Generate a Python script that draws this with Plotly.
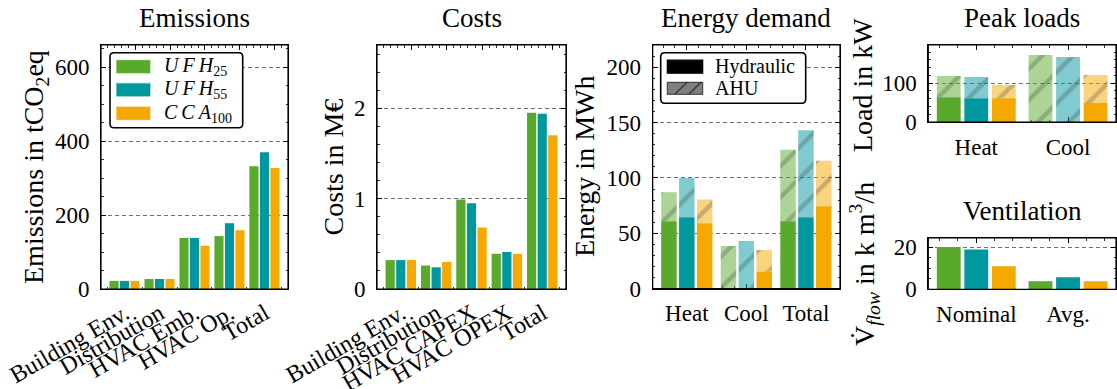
import plotly.graph_objects as go

# ---------------- data ----------------
scenario_labels = ["<i>U\u2009F\u2009H</i><sub>25</sub>",
                   "<i>U\u2009F\u2009H</i><sub>55</sub>",
                   "<i>C\u2009C\u2009A</i><sub>100</sub>"]

emission_categories = ["Building Env.", "Distribution", "HVAC Emb.", "HVAC Op.", "Total"]
emissions_ufh25 = [22, 27, 138, 143, 332]
emissions_ufh55 = [22, 27, 138, 178, 370]
emissions_cca100 = [22, 27, 117, 159, 327]

cost_categories = ["Building Env.", "Distribution", "HVAC CAPEX", "HVAC OPEX", "Total"]
costs_ufh25 = [0.32, 0.26, 0.99, 0.39, 1.95]
costs_ufh55 = [0.32, 0.24, 0.95, 0.41, 1.94]
costs_cca100 = [0.32, 0.30, 0.68, 0.39, 1.70]

energy_categories = ["Heat", "Cool", "Total"]
energy_hydraulic_ufh25 = [61, 0, 61]
energy_ahu_ufh25 = [26, 38.5, 64.5]
energy_hydraulic_ufh55 = [64.5, 0, 64.5]
energy_ahu_ufh55 = [35.5, 43, 78.5]
energy_hydraulic_cca100 = [59, 15.5, 74.5]
energy_ahu_cca100 = [21.5, 19.5, 41]

peak_categories = ["Heat", "Cool"]
peak_hydraulic_ufh25 = [63.5, 0]
peak_ahu_ufh25 = [54.5, 172.5]
peak_hydraulic_ufh55 = [61, 0]
peak_ahu_ufh55 = [54.5, 167]
peak_hydraulic_cca100 = [61, 49]
peak_ahu_cca100 = [34, 72]

vent_categories = ["Nominal", "Avg."]
vent_ufh25 = [20.0, 3.8]
vent_ufh55 = [18.9, 5.7]
vent_cca100 = [10.9, 3.8]

# ---------------- style ----------------
W, H = 1117, 389
FONT = "Liberation Serif"
COLORS = ["#58A92C", "#00979F", "#F5A800"]
LIGHT = ["rgba(88,169,44,0.5)", "rgba(0,151,159,0.5)", "rgba(245,168,0,0.5)"]
HATCH = "rgba(50,50,50,0.5)"
BAR_W = 0.26
CENTERS = [-0.3, 0.0, 0.3]


def fx(p):
    return p / W


def fy(p):
    return 1 - p / H


fig = go.Figure()


def add_bars(xa, ya, values, k, base=None, hatched=False):
    n = len(values)
    kw = dict(x=list(range(n)), y=values, width=[BAR_W] * n,
              offset=CENTERS[k] - BAR_W / 2, xaxis=xa, yaxis=ya,
              showlegend=False, hoverinfo="skip")
    if base is not None:
        kw["base"] = base
    if hatched:
        kw["marker"] = dict(color=LIGHT[k], line=dict(width=0),
                            pattern=dict(shape="/", fgcolor=HATCH, size=22,
                                         solidity=0.2, fillmode="overlay"))
    else:
        kw["marker"] = dict(color=COLORS[k], line=dict(width=0))
    fig.add_trace(go.Bar(**kw))


for k, vals in enumerate([emissions_ufh25, emissions_ufh55, emissions_cca100]):
    add_bars("x", "y", vals, k)
for k, vals in enumerate([costs_ufh25, costs_ufh55, costs_cca100]):
    add_bars("x2", "y2", vals, k)
for k, (hyd, ahu) in enumerate([(energy_hydraulic_ufh25, energy_ahu_ufh25),
                                (energy_hydraulic_ufh55, energy_ahu_ufh55),
                                (energy_hydraulic_cca100, energy_ahu_cca100)]):
    add_bars("x3", "y3", hyd, k)
    add_bars("x3", "y3", ahu, k, base=hyd, hatched=True)
for k, (hyd, ahu) in enumerate([(peak_hydraulic_ufh25, peak_ahu_ufh25),
                                (peak_hydraulic_ufh55, peak_ahu_ufh55),
                                (peak_hydraulic_cca100, peak_ahu_cca100)]):
    add_bars("x4", "y4", hyd, k)
    add_bars("x4", "y4", ahu, k, base=hyd, hatched=True)
for k, vals in enumerate([vent_ufh25, vent_ufh55, vent_cca100]):
    add_bars("x5", "y5", vals, k)


def xrange_for(n):
    lo, hi = -0.3 - BAR_W / 2, (n - 1) + 0.3 + BAR_W / 2
    m = 0.05 * (hi - lo)
    return [lo - m, hi + m]


TICKFONT = dict(family=FONT, size=23, color="black")
ROTFONT = dict(family=FONT, size=24, color="black")


def xaxis(dom, anchor, n, labels, rotated):
    d = dict(domain=[fx(dom[0]), fx(dom[1])], range=xrange_for(n), anchor=anchor,
             tickmode="array", ticks="inside", ticklen=5, tickwidth=1, tickcolor="black",
             showline=True, linecolor="black", linewidth=1, mirror="ticks",
             showgrid=False, zeroline=False, layer="below traces", automargin=False,
             tickfont=TICKFONT, fixedrange=True)
    if rotated:
        d.update(tickvals=[i + 0.3 for i in range(n)], ticktext=labels, tickangle=-30,
                 ticklabelshift=-10, ticklabelstandoff=0, tickfont=ROTFONT,
                 minor=dict(ticks="inside", ticklen=2.5, tickwidth=0.8, tickcolor="black",
                            tick0=0.1, dtick=0.2, showgrid=False))
    else:
        d.update(tickvals=list(range(n)), ticktext=labels, tickangle=0,
                 ticklabelstandoff=4,
                 minor=dict(ticks="inside", ticklen=2.5, tickwidth=0.8, tickcolor="black",
                            tick0=0, dtick=0.2, showgrid=False))
    return d


def yaxis(dom, anchor, rng, dtick, minor_dtick):
    return dict(domain=[fy(dom[1]), fy(dom[0])], range=rng, anchor=anchor,
                tickmode="linear", tick0=0, dtick=dtick,
                ticks="inside", ticklen=5, tickwidth=1, tickcolor="black",
                showline=True, linecolor="black", linewidth=1, mirror="ticks",
                showgrid=True, gridcolor="#707070", gridwidth=1, griddash="4px,3px",
                zeroline=False, layer="below traces", tickfont=TICKFONT, automargin=False,
                ticklabelstandoff=6, fixedrange=True,
                minor=dict(ticks="inside", ticklen=2.5, tickwidth=0.8, tickcolor="black",
                           dtick=minor_dtick, tick0=0, showgrid=False))


frames = {
    "1": (101, 288, 45, 289),
    "2": (377, 566, 45, 289),
    "3": (652.7, 840, 45, 288.7),
    "4": (928.3, 1116, 45, 122),
    "5": (928.3, 1116, 238, 289.3),
}

layout_axes = {
    "xaxis": xaxis(frames["1"][:2], "y", 5, emission_categories, True),
    "yaxis": yaxis(frames["1"][2:], "x", [0, 660], 200, 50),
    "xaxis2": xaxis(frames["2"][:2], "y2", 5, cost_categories, True),
    "yaxis2": yaxis(frames["2"][2:], "x2", [0, 2.7], 1, 0.2),
    "xaxis3": xaxis(frames["3"][:2], "y3", 3, energy_categories, False),
    "yaxis3": yaxis(frames["3"][2:], "x3", [0, 220], 50, 10),
    "xaxis4": xaxis(frames["4"][:2], "y4", 2, peak_categories, False),
    "yaxis4": yaxis(frames["4"][2:], "x4", [0, 198], 100, 20),
    "xaxis5": xaxis(frames["5"][:2], "y5", 2, vent_categories, False),
    "yaxis5": yaxis(frames["5"][2:], "x5", [0, 24.3], 20, 5),
}

shapes = []
for key in ["", "2", "3", "4", "5"]:
    shapes.append(dict(type="rect", xref=f"x{key} domain", yref=f"y{key} domain",
                       x0=0, x1=1, y0=0, y1=1, line=dict(color="black", width=1.2),
                       fillcolor="rgba(0,0,0,0)", layer="above"))

annotations = []


def text(xp, yp, s, size, xanchor="center", yanchor="middle", angle=0):
    annotations.append(dict(x=fx(xp), y=fy(yp), xref="paper", yref="paper", text=s,
                            showarrow=False, xanchor=xanchor, yanchor=yanchor,
                            textangle=angle, borderpad=0,
                            font=dict(family=FONT, size=size, color="black")))


# titles
TS = 27
LS = 28
text(194.5, 34, "Emissions", TS, yanchor="bottom")
text(471.5, 34, "Costs", TS, yanchor="bottom")
text(746.4, 34, "Energy demand", TS, yanchor="bottom")
text(1022, 34, "Peak loads", TS, yanchor="bottom")
text(1022, 227.5, "Ventilation", TS, yanchor="bottom")

# axis labels
text(35, 167, "Emissions in tCO<sub>2</sub>eq", LS, angle=-90)
text(332.5, 167, "Costs in M€", LS, angle=-90)
text(584, 167, "Energy in MWh", LS, angle=-90)
text(862, 85, "Load in kW", LS, angle=-90)
text(864, 264, "V\u0307<sub><i>flow</i></sub> in k m<sup>3</sup>/h", LS, angle=-90)


def rounded_box(x0, y0, x1, y1, r=4):
    def P(x, y):
        return f"{fx(x):.5f},{fy(y):.5f}"
    path = (f"M{P(x0 + r, y0)} L{P(x1 - r, y0)} Q{P(x1, y0)} {P(x1, y0 + r)} "
            f"L{P(x1, y1 - r)} Q{P(x1, y1)} {P(x1 - r, y1)} L{P(x0 + r, y1)} "
            f"Q{P(x0, y1)} {P(x0, y1 - r)} L{P(x0, y0 + r)} Q{P(x0, y0)} {P(x0 + r, y0)} Z")
    shapes.append(dict(type="path", xref="paper", yref="paper", path=path,
                       fillcolor="white", line=dict(color="black", width=1.6), layer="above"))


def patch(x0, x1, yc, h, fill, line_color=None):
    shapes.append(dict(type="rect", xref="paper", yref="paper",
                       x0=fx(x0), x1=fx(x1), y0=fy(yc + h / 2), y1=fy(yc - h / 2),
                       fillcolor=fill, line=dict(color=line_color or fill, width=1.2),
                       layer="above"))


# legend 1 (scenarios)
rounded_box(110, 52.7, 242.7, 127.7)
for k, yc in enumerate([66.7, 89.8, 113.3]):
    patch(116, 150.7, yc, 14, COLORS[k], "rgba(255,255,255,0.6)")
    text(162.7, yc, scenario_labels[k], 20, xanchor="left")

# legend 2 (hydraulic / AHU)
rounded_box(660.7, 52.7, 805.7, 103.3)
patch(667.3, 702.7, 66.7, 13, "black")
text(714, 66.7, "Hydraulic", 20, xanchor="left")
patch(667.3, 702.7, 88.3, 12, "rgba(0,0,0,0.5)", "rgba(0,0,0,0.6)")
for xs in (675, 689):
    shapes.append(dict(type="line", xref="paper", yref="paper",
                       x0=fx(xs), y0=fy(94), x1=fx(xs + 12), y1=fy(82.3),
                       line=dict(color="rgba(0,0,0,0.55)", width=1.6), layer="above"))
text(714, 88.3, "AHU", 20, xanchor="left")

fig.update_layout(
    width=W, height=H, margin=dict(l=0, r=0, t=0, b=0, autoexpand=False),
    paper_bgcolor="white", plot_bgcolor="white",
    barmode="overlay", showlegend=False,
    font=dict(family=FONT, color="black"),
    shapes=shapes, annotations=annotations,
    **layout_axes,
)

fig.write_html("out.html", config={"displayModeBar": False, "staticPlot": True},
               post_script="document.body.style.margin='0';document.body.style.overflow='hidden';")
